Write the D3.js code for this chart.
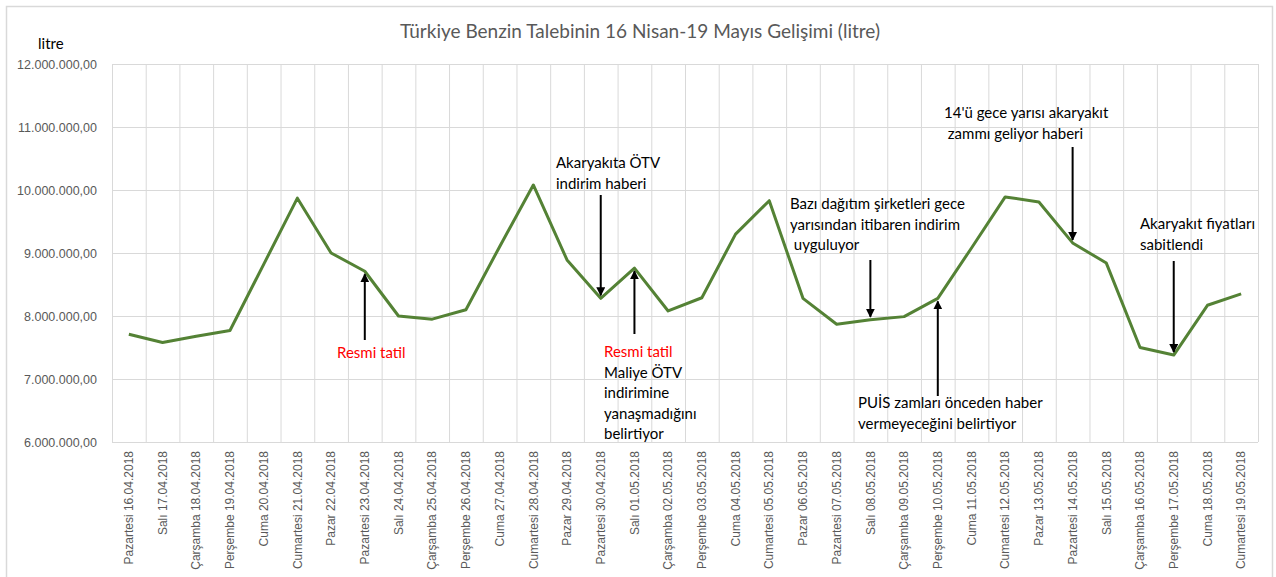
<!DOCTYPE html>
<html>
<head>
<meta charset="utf-8">
<title>Türkiye Benzin Talebi</title>
<script src="https://d3js.org/d3.v7.min.js"></script>
<style>
    body { margin: 0; background: #fff; }
    svg { font-family: Lato, "Open Sans", sans-serif; }
    .grid line { stroke: #d9d9d9; stroke-width: 1; }
    .grid path { display: none; }
    .ylab text, .xlab text { fill: #595959; }
    .ylab path, .ylab line, .xlab path, .xlab line { display: none; }
    .note { font-size: 15px; fill: #000; }
</style>
</head>
<body>
<div id="chart"></div>
<script>
const days = [
    "Pazartesi 16.04.2018", "Salı 17.04.2018", "Çarşamba 18.04.2018", "Perşembe 19.04.2018",
    "Cuma 20.04.2018", "Cumartesi 21.04.2018", "Pazar 22.04.2018", "Pazartesi 23.04.2018",
    "Salı 24.04.2018", "Çarşamba 25.04.2018", "Perşembe 26.04.2018", "Cuma 27.04.2018",
    "Cumartesi 28.04.2018", "Pazar 29.04.2018", "Pazartesi 30.04.2018", "Salı 01.05.2018",
    "Çarşamba 02.05.2018", "Perşembe 03.05.2018", "Cuma 04.05.2018", "Cumartesi 05.05.2018",
    "Pazar 06.05.2018", "Pazartesi 07.05.2018", "Salı 08.05.2018", "Çarşamba 09.05.2018",
    "Perşembe 10.05.2018", "Cuma 11.05.2018", "Cumartesi 12.05.2018", "Pazar 13.05.2018",
    "Pazartesi 14.05.2018", "Salı 15.05.2018", "Çarşamba 16.05.2018", "Perşembe 17.05.2018",
    "Cuma 18.05.2018", "Cumartesi 19.05.2018"
];

const litres = [
    7710000, 7580000, 7680000, 7770000, 8820000, 9870000, 9000000, 8710000,
    8000000, 7950000, 8100000, 9100000, 10080000, 8890000, 8280000, 8760000,
    8080000, 8290000, 9300000, 9830000, 8280000, 7870000, 7940000, 7990000,
    8280000, 9080000, 9890000, 9810000, 9160000, 8840000, 7500000, 7380000,
    8170000, 8350000
];

const yTicks = [6000000, 7000000, 8000000, 9000000, 10000000, 11000000, 12000000];

// annotation: which day it points at, text lines, arrow direction
const notes = [
    { day: 7, lines: ["Resmi tatil"], red: [true], dir: "up", tail: 340, tx: 337, ty: 358 },
    { day: 14, lines: ["Akaryakıta ÖTV", "indirim haberi"], red: [false, false], dir: "down", tail: 195, tx: 556, ty: 168 },
    { day: 15, lines: ["Resmi tatil", "Maliye ÖTV", "indirimine", "yanaşmadığını", "belirtiyor"], red: [true, false, false, false, false], dir: "up", tail: 334, tx: 604, ty: 357 },
    { day: 22, lines: ["Bazı dağıtım şirketleri gece", "yarısından itibaren indirim", " uyguluyor"], red: [false, false, false], dir: "down", tail: 260, tx: 790, ty: 209 },
    { day: 24, lines: ["PUİS zamları önceden haber", "vermeyeceğini belirtiyor"], red: [false, false], dir: "up", tail: 396, tx: 858, ty: 408 },
    { day: 28, lines: ["14'ü gece yarısı akaryakıt", " zammı geliyor haberi"], red: [false, false], dir: "down", tail: 147, tx: 944, ty: 118 },
    { day: 31, lines: ["Akaryakıt fiyatları", "sabitlendi"], red: [false, false], dir: "down", tail: 261, tx: 1140, ty: 229 }
];

const width = 1276, height = 577;
const margin = { top: 64, right: 18, bottom: 135, left: 112 };

const svg = d3.select("#chart").append("svg")
    .attr("width", width)
    .attr("height", height);

svg.append("rect")
    .attr("x", 6.5).attr("y", 6.5)
    .attr("width", 1266).attr("height", 580)
    .attr("fill", "#fff")
    .attr("stroke", "#d9d9d9")
    .attr("stroke-width", 1.5);

const x = d3.scaleBand()
    .domain(days)
    .range([margin.left, width - margin.right])
    .padding(0);

const y = d3.scaleLinear()
    .domain([6000000, 12000000])
    .range([height - margin.bottom, margin.top]);

const fmt = v => d3.format(",.2f")(v).replace(/,/g, "#").replace(".", ",").replace(/#/g, ".");

// horizontal grid
svg.append("g")
    .attr("class", "grid")
    .attr("transform", `translate(${margin.left},0)`)
    .call(d3.axisLeft(y).tickValues(yTicks).tickSize(-(width - margin.right - margin.left)).tickFormat(""));

// vertical grid at category boundaries
const bounds = days.map(d => x(d)).concat([x(days[days.length - 1]) + x.bandwidth()]);
svg.append("g")
    .attr("class", "grid")
    .selectAll("line")
    .data(bounds)
    .join("line")
    .attr("x1", d => d + 0.5).attr("x2", d => d + 0.5)
    .attr("y1", y(12000000)).attr("y2", y(6000000));

// y labels
svg.append("g")
    .attr("class", "ylab")
    .attr("transform", `translate(${margin.left - 12},0)`)
    .call(d3.axisLeft(y).tickValues(yTicks).tickSize(0).tickFormat(fmt))
    .selectAll("text")
    .style("font-size", "12.5px");

// x labels
svg.append("g")
    .attr("class", "xlab")
    .attr("transform", `translate(0,${y(6000000)})`)
    .call(d3.axisBottom(x).tickSize(0))
    .selectAll("text")
    .style("font-size", "12px")
    .attr("transform", "rotate(-90)")
    .attr("text-anchor", "end")
    .attr("dx", "-9px")
    .attr("dy", "0.35em")
    .attr("y", 0)
    .attr("x", 0);

// title
svg.append("text")
    .attr("x", 640).attr("y", 38)
    .attr("text-anchor", "middle")
    .style("font-size", "19px")
    .style("fill", "#595959")
    .text("Türkiye Benzin Talebinin 16 Nisan-19 Mayıs Gelişimi (litre)");

svg.append("text")
    .attr("x", 38).attr("y", 49)
    .style("font-size", "15px")
    .style("fill", "#000")
    .text("litre");

// line
const line = d3.line()
    .x((d, i) => x(days[i]) + x.bandwidth() / 2)
    .y(d => y(d));

svg.append("path")
    .datum(litres)
    .attr("fill", "none")
    .attr("stroke", "#548235")
    .attr("stroke-width", 3)
    .attr("stroke-linejoin", "round")
    .attr("d", line);

// arrows
const defs = svg.append("defs");
defs.append("marker")
    .attr("id", "head")
    .attr("viewBox", "0 0 10 10")
    .attr("refX", 9).attr("refY", 5)
    .attr("markerWidth", 4.5).attr("markerHeight", 4.5)
    .attr("orient", "auto")
    .append("path")
    .attr("d", "M0,0 L10,5 L0,10 Z")
    .attr("fill", "#000");

notes.forEach(n => {
    const px = x(days[n.day]) + x.bandwidth() / 2;
    const py = y(litres[n.day]);
    const tip = n.dir === "up" ? py + 3 : py - 3;
    svg.append("line")
        .attr("x1", px).attr("y1", n.tail)
        .attr("x2", px).attr("y2", tip)
        .attr("stroke", "#000")
        .attr("stroke-width", 2)
        .attr("marker-end", "url(#head)");

    const t = svg.append("text")
        .attr("class", "note")
        .attr("x", n.tx).attr("y", n.ty);
    n.lines.forEach((l, i) => {
        t.append("tspan")
            .attr("x", n.tx)
            .attr("dy", i === 0 ? 0 : 20.5)
            .style("fill", n.red[i] ? "#ff0000" : "#000")
            .style("white-space", "pre")
            .text(l);
    });
});
</script>
</body>
</html>
